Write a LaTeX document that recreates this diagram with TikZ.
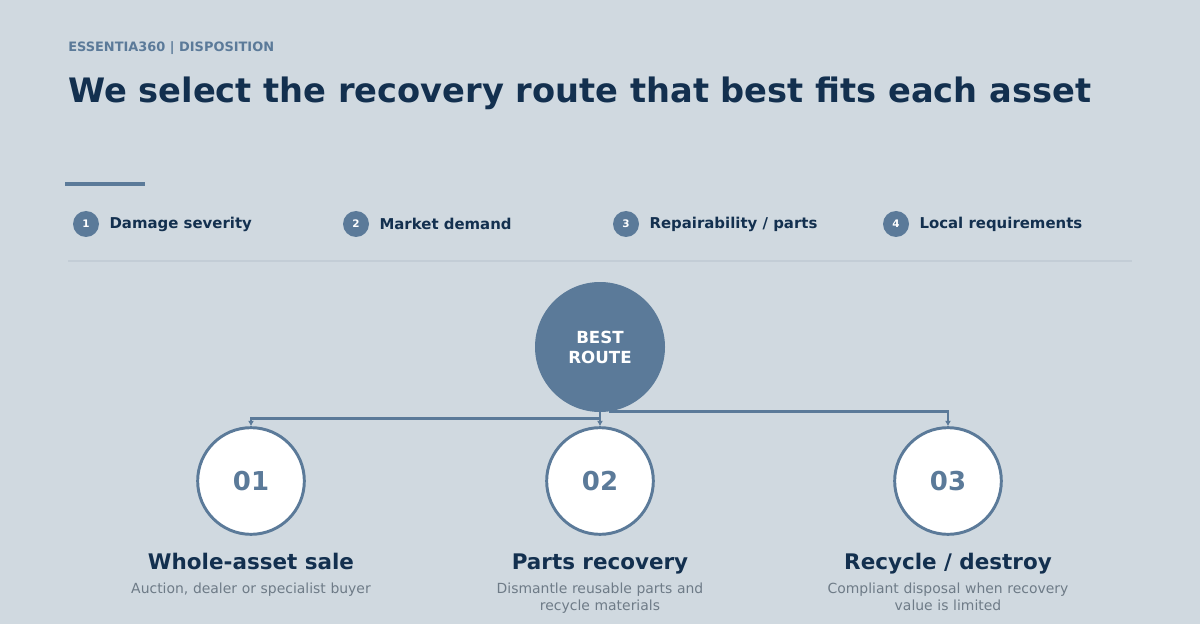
\documentclass[tikz,border=0pt]{standalone}
\usepackage{fontspec}
\setmainfont{DejaVu Sans}
\usepackage{xcolor}
\usetikzlibrary{arrows.meta, calc, positioning}
\definecolor{pagebg}{HTML}{D0D9E0}
\definecolor{navy}{HTML}{13304F}
\definecolor{slate}{HTML}{5B7A99}
\definecolor{hairline}{HTML}{C3CDD6}
\definecolor{softgrey}{HTML}{6E7B87}
\tikzset{
    kicker/.style={anchor=base west, text=slate, font=\bfseries\fontsize{9.7}{11}\selectfont, inner sep=0pt},
    headline/.style={anchor=base west, text=navy, font=\bfseries\fontsize{25.25}{30}\selectfont, inner sep=0pt},
    chip/.style={circle, fill=slate, text=white, minimum size=19.5pt, inner sep=0pt,
        font=\bfseries\fontsize{7.8}{9}\selectfont},
    factor/.style={anchor=west, text=navy, font=\bfseries\fontsize{11.2}{13}\selectfont, inner sep=0pt},
    hub/.style={circle, fill=slate, text=white, minimum size=97.5pt, inner sep=0pt, align=center,
        font=\bfseries\fontsize{12.5}{15}\selectfont},
    route/.style={circle, fill=white, draw=slate, line width=2.2pt, minimum size=80pt, inner sep=0pt,
        text=slate, font=\bfseries\fontsize{19.5}{22}\selectfont},
    routetitle/.style={anchor=base, text=navy, font=\bfseries\fontsize{16.1}{19}\selectfont, inner sep=0pt},
    routetext/.style={anchor=north, text=softgrey, align=center, text width=190pt, inner sep=0pt,
        font=\fontsize{10.45}{12.75}\selectfont},
    link/.style={-{Latex[length=4pt,width=4.5pt]}, draw=slate, line width=2.2pt},
}
\begin{document}
\begin{tikzpicture}[x=0.75pt, y=-0.75pt]
    \fill[pagebg] (0,0) rectangle (1200,624);
    \useasboundingbox (0,0) rectangle (1200,624);

    % header
    \node[kicker] (kick) at (68,52) {ESSENTIA360 | DISPOSITION};
    \node[headline] (head) at (68,103) {We select the recovery route that best fits each asset};
    \draw[slate, line width=3.6pt] (65,184) -- (145,184);

    % decision factors
    \node[chip] (c1) at (86,224) {1};
    \node[factor, right=7.5pt of c1] (f1) {Damage severity};
    \node[chip] (c2) at (356,224) {2};
    \node[factor, right=7.5pt of c2] (f2) {Market demand};
    \node[chip] (c3) at (626,224) {3};
    \node[factor, right=7.5pt of c3] (f3) {Repairability / parts};
    \node[chip] (c4) at (896,224) {4};
    \node[factor, right=7.5pt of c4] (f4) {Local requirements};
    \draw[hairline, line width=0.8pt] (68,261) -- (1132,261);

    % routes
    \node[hub] (best) at (600,347) {BEST\\ROUTE};
    \node[route] (r1) at (251,481) {01};
    \node[route] (r2) at (600,481) {02};
    \node[route] (r3) at (948,481) {03};

    \draw[link] (best.south) -- ++(0,6) -| (r1.north);
    \draw[link] (best.south) -- (r2.north);
    \draw[link] (best.-82) -| (r3.north);

    \node[routetitle] (t1) at (251,569) {Whole-asset sale};
    \node[routetitle] (t2) at (600,569) {Parts recovery};
    \node[routetitle] (t3) at (948,569) {Recycle / destroy};
    \node[routetext, below=10pt of t1.base] (d1) {Auction, dealer or specialist buyer};
    \node[routetext, below=10pt of t2.base] (d2) {Dismantle reusable parts and\\recycle materials};
    \node[routetext, below=10pt of t3.base] (d3) {Compliant disposal when recovery\\value is limited};
\end{tikzpicture}
\end{document}
